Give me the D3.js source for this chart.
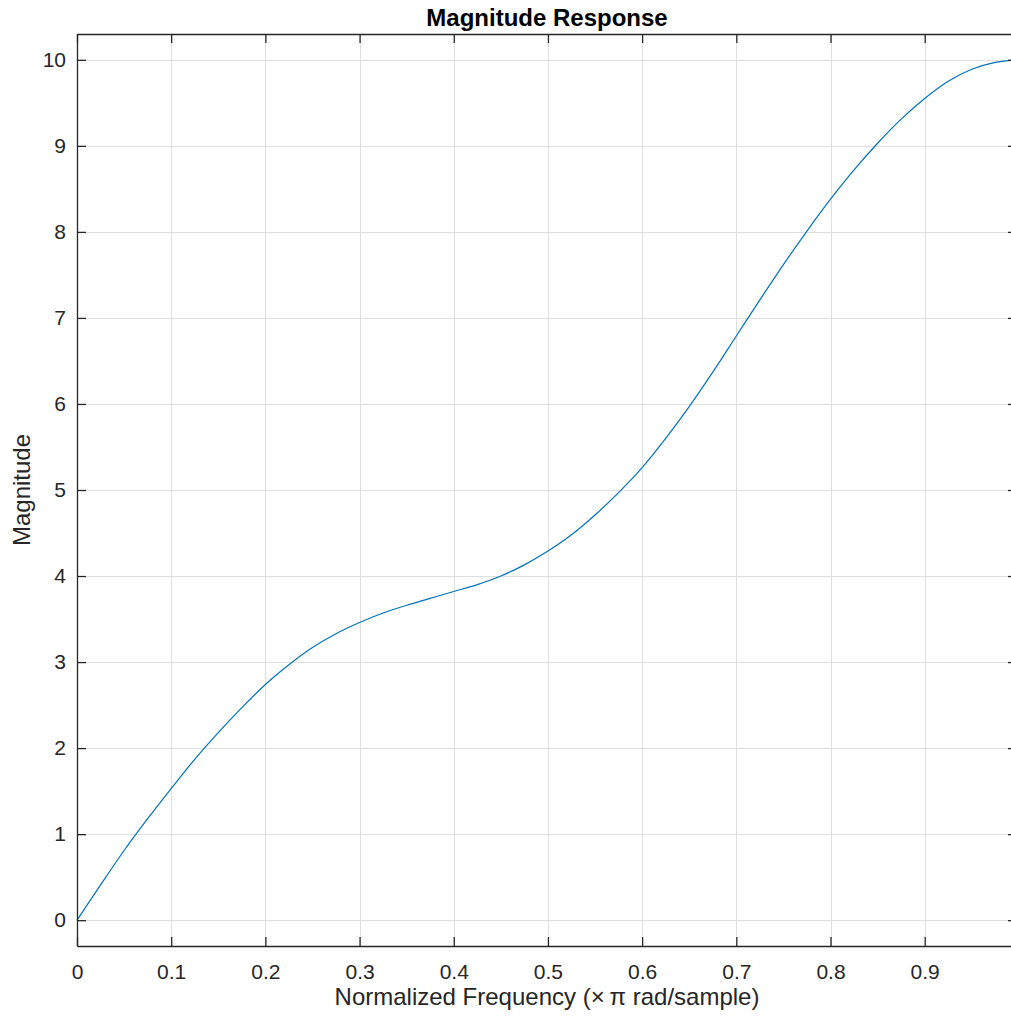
<!DOCTYPE html>
<html>
<head>
<meta charset="utf-8">
<script src="https://cdn.jsdelivr.net/npm/d3@7"></script>
<style>
  body { margin: 0; background: #fff; overflow: hidden; }
  svg { display: block; overflow: hidden; }
  text { font-family: "Liberation Sans", Arial, Helvetica, sans-serif; }
</style>
</head>
<body>
<div id="chart"></div>
<script>
// normalized frequency (x pi rad/sample)
const freq = [0, 0.025, 0.05, 0.075, 0.1, 0.125, 0.15, 0.175, 0.2, 0.225, 0.25,
  0.275, 0.3, 0.325, 0.35, 0.375, 0.4, 0.425, 0.45, 0.475, 0.5,
  0.525, 0.55, 0.575, 0.6, 0.625, 0.65, 0.675, 0.7, 0.725, 0.75,
  0.775, 0.8, 0.825, 0.85, 0.875, 0.9, 0.925, 0.95, 0.975, 0.998];
// magnitude at each frequency
const magnitude = [0, 0.41, 0.81, 1.18, 1.53, 1.87, 2.18, 2.47, 2.74, 2.97, 3.17,
  3.33, 3.46, 3.57, 3.66, 3.74, 3.82, 3.90, 4.00, 4.13, 4.29,
  4.48, 4.71, 4.97, 5.26, 5.60, 5.97, 6.37, 6.79, 7.21, 7.62,
  8.01, 8.38, 8.72, 9.03, 9.31, 9.55, 9.75, 9.89, 9.97, 10.0];
const xTicks = [0, 0.1, 0.2, 0.3, 0.4, 0.5, 0.6, 0.7, 0.8, 0.9];
const yTicks = [0, 1, 2, 3, 4, 5, 6, 7, 8, 9, 10];

const width = 1011, height = 1020;
const plotLeft = 77, plotRight = 1017, plotTop = 34, plotBottom = 946;
const axisColor = "#262626";

const svg = d3.select("#chart").append("svg")
  .attr("width", width)
  .attr("height", height);

const x = d3.scaleLinear().domain([0, 0.998]).range([plotLeft, plotRight]);
const y = d3.scaleLinear().domain([-0.3, 10.3]).range([plotBottom, plotTop]);

// grid
const grid = svg.append("g").attr("stroke", "#dfdfdf").attr("stroke-width", 1);
grid.selectAll("line.v").data(xTicks).join("line")
  .attr("class", "v")
  .attr("x1", d => Math.round(x(d)) + 0.5).attr("x2", d => Math.round(x(d)) + 0.5)
  .attr("y1", plotTop).attr("y2", plotBottom);
grid.selectAll("line.h").data(yTicks).join("line")
  .attr("class", "h")
  .attr("x1", plotLeft).attr("x2", plotRight)
  .attr("y1", d => Math.round(y(d)) + 0.5).attr("y2", d => Math.round(y(d)) + 0.5);

// curve
const data = freq.map((f, i) => ({ f, m: magnitude[i] }));
svg.append("path")
  .datum(data)
  .attr("fill", "none")
  .attr("stroke", "#0072BD")
  .attr("stroke-width", 1.2)
  .attr("d", d3.line().x(d => x(d.f)).y(d => y(d.m)).curve(d3.curveMonotoneX));

// axes (ticks point inward, box on)
function styleAxis(g) {
  g.select(".domain").attr("stroke", axisColor).attr("stroke-width", 1.3);
  g.selectAll(".tick line").attr("stroke", axisColor).attr("stroke-width", 1.3);
  g.selectAll(".tick text").attr("fill", axisColor)
    .style("font-size", "21px")
    .style("font-family", '"Liberation Sans", Arial, sans-serif');
}

svg.append("g")
  .attr("transform", `translate(0,${plotBottom})`)
  .call(d3.axisBottom(x).tickValues(xTicks).tickSizeInner(-9).tickSizeOuter(0)
    .tickPadding(18).tickFormat(d => d === 0 ? "0" : d3.format(".1f")(d)))
  .call(styleAxis);

svg.append("g")
  .attr("transform", `translate(0,${plotTop})`)
  .call(d3.axisTop(x).tickValues(xTicks).tickSizeInner(-9).tickSizeOuter(0).tickFormat(""))
  .call(styleAxis);

svg.append("g")
  .attr("transform", `translate(${plotLeft},0)`)
  .call(d3.axisLeft(y).tickValues(yTicks).tickSizeInner(-9).tickSizeOuter(0).tickPadding(11))
  .call(styleAxis);

svg.append("g")
  .attr("transform", `translate(${plotRight},0)`)
  .call(d3.axisRight(y).tickValues(yTicks).tickSizeInner(-9).tickSizeOuter(0).tickFormat(""))
  .call(styleAxis);

// title and labels
svg.append("text")
  .attr("x", (plotLeft + plotRight) / 2).attr("y", 26)
  .attr("text-anchor", "middle")
  .attr("font-weight", "bold")
  .attr("font-size", 24)
  .attr("fill", "#000")
  .text("Magnitude Response");

svg.append("text")
  .attr("x", (plotLeft + plotRight) / 2).attr("y", 1005)
  .attr("text-anchor", "middle")
  .attr("font-size", 24)
  .attr("fill", axisColor)
  .text("Normalized Frequency (\u00d7\u2009\u03c0 rad/sample)");

svg.append("text")
  .attr("transform", `translate(30,${(plotTop + plotBottom) / 2}) rotate(-90)`)
  .attr("text-anchor", "middle")
  .attr("font-size", 24)
  .attr("fill", axisColor)
  .text("Magnitude");
</script>
</body>
</html>
